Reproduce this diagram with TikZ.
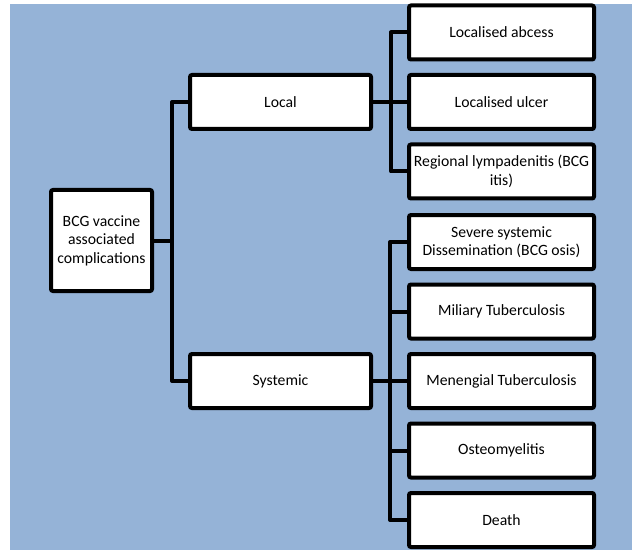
\documentclass[tikz,border=0pt]{standalone}
\usepackage{fontspec}
\setmainfont{Carlito}
\usepackage{tikz}
\usetikzlibrary{
	positioning,
	calc}
\definecolor{sheet blue}{HTML}{95B3D7}
\tikzset{
	box line/.store in=\bline,
	box line = 4pt,
	leaf gap/.store in=\lgap,
	leaf gap = 11.5pt,
	any box/.style={
		rectangle,
		draw = black,
		fill = white,
		line width = \bline,
		rounded corners = 2pt,
		inner xsep = 0pt,
		align = center,
		font = \fontsize{15.7}{18.5}\selectfont
	},
	cause box/.style={
		any box,
		minimum width = 101pt,
		minimum height = 101pt
	},
	branch box/.style={
		any box,
		minimum width = 181pt,
		minimum height = 54pt
	},
	leaf box/.style={
		any box,
		minimum width = 185pt,
		minimum height = 54pt,
		node distance = \lgap
	},
	wire/.style={
		draw = black,
		line width = \bline,
		line join = round
	},
}

\begin{document}
\begin{tikzpicture}[x=1pt, y=1pt]
	\useasboundingbox (0,0) rectangle (632,550);
	\fill[sheet blue] (10,0) rectangle (632,546);
	\node[cause box] (root) at (101.5,309.5) {BCG vaccine\\associated\\complications};
	\node[branch box] (local) at (280.5,448) {Local};
	\node[branch box] (systemic) at (280.5,169) {Systemic};
	% local complications
	\node[leaf box, right=34pt of local] (ulcer) {Localised ulcer};
	\node[leaf box, above=of ulcer] (abcess) {Localised abcess};
	\node[leaf box, below=of ulcer] (regional) {Regional lympadenitis (BCG\\itis)};
	% systemic complications
	\node[leaf box, right=34pt of systemic] (menengial) {Menengial Tuberculosis};
	\node[leaf box, above=of menengial] (miliary) {Miliary Tuberculosis};
	\node[leaf box, above=of miliary] (severe) {Severe systemic\\Dissemination (BCG osis)};
	\node[leaf box, below=of menengial] (osteo) {Osteomyelitis};
	\node[leaf box, below=of osteo] (death) {Death};
	\coordinate (trunk) at ([xshift=-16pt]local.west);
	\coordinate (lbus) at ([xshift=18pt]local.east);
	\coordinate (sbus) at ([xshift=17pt]systemic.east);
	\draw[wire] (local.west) -- (trunk) |- (systemic.west);
	\draw[wire] (root.east) -- (root.east -| trunk);
	\draw[wire] (abcess.west) -| (lbus) |- (regional.west);
	\draw[wire] (local.east) -- (ulcer.west);
	\draw[wire] (severe.west) -| (sbus) |- (death.west);
	\draw[wire] (systemic.east) -- (menengial.west);
	\foreach \n in {miliary, osteo}
		\draw[wire] (\n.west) -- (\n.west -| sbus);
\end{tikzpicture}
\end{document}
